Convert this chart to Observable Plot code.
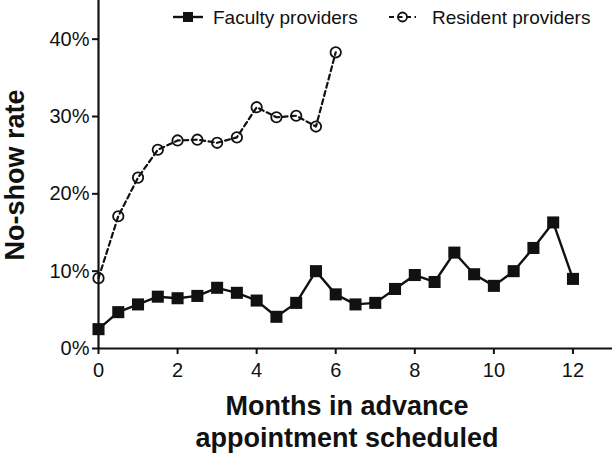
<!DOCTYPE html>
<html><head><meta charset="utf-8">
<script src="https://cdn.jsdelivr.net/npm/d3@7"></script>
<script src="https://cdn.jsdelivr.net/npm/@observablehq/plot@0.6"></script>
<style>
body{margin:0;background:#fff;}
#wrap{position:relative;width:612px;height:455px;font-family:"Liberation Sans",Arial,sans-serif;}
svg{overflow:visible;}
</style></head><body><div id="wrap"></div>
<script>
const facultyMonths = [0,0.5,1,1.5,2,2.5,3,3.5,4,4.5,5,5.5,6,6.5,7,7.5,8,8.5,9,9.5,10,10.5,11,11.5,12];
const facultyRate = [2.5,4.7,5.7,6.7,6.5,6.8,7.85,7.2,6.2,4.1,5.9,10.0,7.0,5.7,5.9,7.7,9.5,8.6,12.4,9.6,8.1,10.0,13.0,16.3,9.0];
const residentMonths = [0,0.5,1,1.5,2,2.5,3,3.5,4,4.5,5,5.5,6];
const residentRate = [9.1,17.1,22.1,25.7,26.9,27.0,26.6,27.3,31.2,29.9,30.1,28.7,38.3];
const xTicks = [0,2,4,6,8,10,12];
const yTicks = [0,10,20,30,40];
const seriesNames = ["Faculty providers","Resident providers"];
const xTitle = ["Months in advance","appointment scheduled"];
const yTitle = "No-show rate";

const faculty = facultyMonths.map((m,i)=>({m, v: facultyRate[i]}));
const resident = residentMonths.map((m,i)=>({m, v: residentRate[i]}));

const chart = Plot.plot({
  width: 612, height: 455,
  marginLeft: 98, marginRight: 0, marginTop: 0, marginBottom: 107,
  style: {fontFamily: "'Liberation Sans', Arial, sans-serif", fontSize: "20px", color: "#111", background: "white"},
  x: {domain: [0,13], ticks: xTicks, label: null},
  y: {domain: [0,45], ticks: yTicks, label: null},
  marks: [
    Plot.axisX({ticks: xTicks, tickSize: 6, tickPadding: 8, strokeWidth: 2, fontSize: 20, label: null}),
    Plot.axisY({ticks: yTicks, tickSize: 6, tickPadding: 3, strokeWidth: 2, fontSize: 20, tickFormat: d => d + "%", label: null}),
    Plot.ruleY([0], {strokeWidth: 2.2, stroke: "#111"}),
    Plot.ruleX([0], {strokeWidth: 2.2, stroke: "#111"}),
    Plot.line(resident, {x: "m", y: "v", stroke: "#111", strokeWidth: 2.2, strokeDasharray: "5,3.5"}),
    Plot.dot(resident, {x: "m", y: "v", r: 5.2, stroke: "#111", strokeWidth: 1.8, fill: "none"}),
    Plot.line(faculty, {x: "m", y: "v", stroke: "#111", strokeWidth: 2.4}),
    Plot.dot(faculty, {x: "m", y: "v", symbol: "square", r: 6.8, fill: "#111", stroke: "none"})
  ]
});
document.getElementById("wrap").appendChild(chart);

const svg = d3.select(chart);
// axis titles
const xt = svg.append("text").attr("text-anchor","middle").attr("font-weight","bold").attr("font-size",27).attr("fill","#111");
xt.append("tspan").attr("x",347).attr("y",415).text(xTitle[0]);
xt.append("tspan").attr("x",347).attr("y",447).text(xTitle[1]);
svg.append("text").attr("transform","translate(24,175) rotate(-90)").attr("text-anchor","middle")
  .attr("font-weight","bold").attr("font-size",27).attr("fill","#111").text(yTitle);

// legend
const lg = svg.append("g").attr("font-size",19).attr("fill","#111").attr("text-anchor","start");
lg.append("line").attr("x1",173).attr("x2",203).attr("y1",17).attr("y2",17).attr("stroke","#111").attr("stroke-width",2.4);
lg.append("rect").attr("x",183).attr("y",12).attr("width",10).attr("height",10).attr("fill","#111");
lg.append("text").attr("x",213).attr("y",17).attr("dy","0.35em").attr("text-anchor","start").text(seriesNames[0]);
lg.append("line").attr("x1",389).attr("x2",416).attr("y1",17).attr("y2",17).attr("stroke","#111").attr("stroke-width",2.2).attr("stroke-dasharray","5,3.5");
lg.append("circle").attr("cx",402.5).attr("cy",17).attr("r",4.5).attr("fill","none").attr("stroke","#111").attr("stroke-width",1.8);
lg.append("text").attr("x",432).attr("y",17).attr("dy","0.35em").attr("text-anchor","start").text(seriesNames[1]);
</script>
</body></html>
